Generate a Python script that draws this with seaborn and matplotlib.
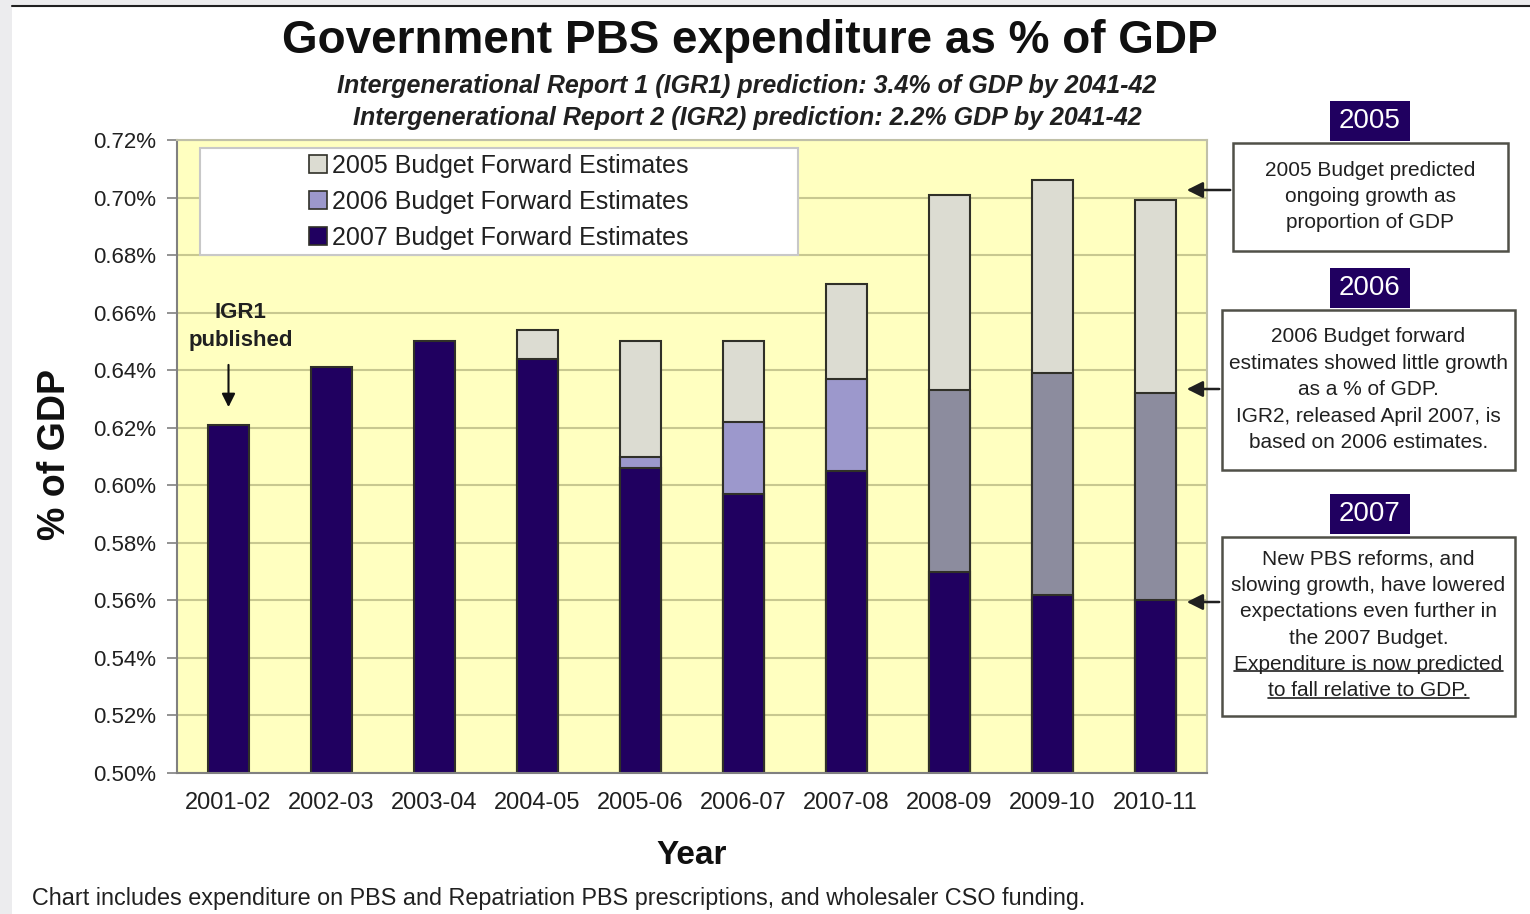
import matplotlib.pyplot as plt
import matplotlib.patches as mpatches
import matplotlib.ticker as mticker
from matplotlib.lines import Line2D
import numpy as np
import pandas as pd
import seaborn as sns

# data (% of GDP)
years = ['2001-02', '2002-03', '2003-04', '2004-05', '2005-06',
         '2006-07', '2007-08', '2008-09', '2009-10', '2010-11']
budget_2005 = [np.nan, np.nan, np.nan, 0.654, 0.650, 0.650, 0.670, 0.701, 0.706, 0.699]
budget_2006 = [np.nan, np.nan, np.nan, np.nan, 0.610, 0.622, 0.637, 0.633, 0.639, 0.632]
budget_2007 = [0.621, 0.641, 0.650, 0.644, 0.606, 0.597, 0.605, 0.570, 0.562, 0.560]
series_labels = ['2005 Budget Forward Estimates', '2006 Budget Forward Estimates',
                 '2007 Budget Forward Estimates']

title = 'Government PBS expenditure as % of GDP'
subtitle_1 = 'Intergenerational Report 1 (IGR1) prediction: 3.4% of GDP by 2041-42'
subtitle_2 = 'Intergenerational Report 2 (IGR2) prediction: 2.2% GDP by 2041-42'
footnote = 'Chart includes expenditure on PBS and Repatriation PBS prescriptions, and wholesaler CSO funding.'

box_years = ['2005', '2006', '2007']
box1_lines = ['2005 Budget predicted', 'ongoing growth as', 'proportion of GDP']
box2_lines = ['2006 Budget forward', 'estimates showed little growth', 'as a % of GDP.',
              'IGR2, released April 2007, is', 'based on 2006 estimates.']
box3_lines = ['New PBS reforms, and', 'slowing growth, have lowered',
              'expectations even further in', 'the 2007 Budget.',
              'Expenditure is now predicted', 'to fall relative to GDP.']

c2005 = '#dcdcd2'
c2006 = '#9c98cc'
c2006_late = '#8c8c9e'
c2007 = '#200060'
edge = '#303028'

W, H = 1530, 914


def fx(x):
    return x / W


def fy(y):
    return 1 - y / H


sns.set_theme(style='white')
plt.rcParams['font.family'] = ['Liberation Sans', 'DejaVu Sans']

fig = plt.figure(figsize=(15.3, 9.14), dpi=100)
fig.patch.set_facecolor('white')

# frame bits of the screenshot
fig.add_artist(mpatches.Rectangle((0, 0), fx(12), 1, transform=fig.transFigure,
                                  color='#ececee', lw=0))
fig.add_artist(mpatches.Rectangle((0, fy(5)), 1, 5 / H, transform=fig.transFigure,
                                  color='#ececee', lw=0))
fig.add_artist(Line2D([fx(12), 1], [fy(6), fy(6)], transform=fig.transFigure,
                      color='#202020', lw=1.5))

ax = fig.add_axes([fx(177), fy(773), fx(1030), 633 / H])
ax.set_facecolor('#ffffc0')

df5 = pd.DataFrame({'year': years, 'value': budget_2005}).dropna()
df6 = pd.DataFrame({'year': years, 'value': budget_2006}).dropna()
df7 = pd.DataFrame({'year': years, 'value': budget_2007}).dropna()

pal6 = {y: (c2006 if i < 7 else c2006_late) for i, y in enumerate(years)}

sns.barplot(data=df5, x='year', y='value', order=years, color=c2005, width=0.4,
            saturation=1, edgecolor=edge, linewidth=1.5, errorbar=None, ax=ax)
sns.barplot(data=df6, x='year', y='value', order=years, hue='year', palette=pal6,
            hue_order=years, legend=False, width=0.4, saturation=1,
            edgecolor=edge, linewidth=1.5, errorbar=None, ax=ax)
sns.barplot(data=df7, x='year', y='value', order=years, color=c2007, width=0.4,
            saturation=1, edgecolor=edge, linewidth=1.5, errorbar=None, ax=ax)

ax.set_ylim(0.50, 0.72)
ax.set_xlim(-0.5, 9.5)
ax.set_yticks(np.arange(0.50, 0.7201, 0.02))
ax.yaxis.set_major_formatter(mticker.FuncFormatter(lambda v, p: f'{v:.2f}%'))
ax.yaxis.grid(True, color='#c8c890', lw=1.5)
ax.set_axisbelow(True)
ax.set_xlabel('')
ax.set_ylabel('')

ax.set_xticks(np.arange(-0.5, 10, 1), minor=True)
ax.tick_params(axis='x', which='major', length=0, labelsize=17, pad=14, labelcolor='#202020')
ax.tick_params(axis='x', which='minor', length=8, width=1.2, color='#808080', direction='out')
ax.tick_params(axis='y', length=7, width=1.2, color='#808080', direction='out',
               labelsize=16, pad=8, labelcolor='#202020', left=True)
for s in ['left', 'bottom']:
    ax.spines[s].set_color('#808080')
    ax.spines[s].set_linewidth(1.5)
for s in ['top', 'right']:
    ax.spines[s].set_color('#c0c0a8')
    ax.spines[s].set_linewidth(1.5)

# legend box
ax.add_patch(mpatches.Rectangle((0.022, 0.818), 0.581, 0.169, transform=ax.transAxes,
                                facecolor='white', edgecolor='#c8c8c8', lw=1.5, zorder=4))
handles = [mpatches.Patch(facecolor=c, edgecolor=edge, lw=1.2)
           for c in [c2005, c2006, c2007]]
leg = ax.legend(handles, series_labels, loc='center', bbox_to_anchor=(0.3125, 0.9025),
                frameon=False, fontsize=18, handlelength=0.7, handleheight=0.7,
                handletextpad=0.2, labelspacing=0.48, borderaxespad=0)
leg.set_zorder(5)
for t in leg.get_texts():
    t.set_color('#202020')

# IGR1 note
ax.text(0.12, 0.6552, 'IGR1\npublished', ha='center', va='center', fontsize=16,
        fontweight='bold', color='#202020', linespacing=1.4, zorder=6)
ax.annotate('', xy=(0, 0.6262), xytext=(0, 0.6428),
            arrowprops=dict(arrowstyle='-|>', color='#101010', lw=1.5, mutation_scale=20))

# titles and axis labels
fig.text(fx(750), fy(41), title, ha='center', va='center', fontsize=33,
         fontweight='bold', color='#101010')
fig.text(fx(747), fy(86), subtitle_1, ha='center', va='center', fontsize=18,
         fontweight='bold', style='italic', color='#202020')
fig.text(fx(747), fy(118), subtitle_2, ha='center', va='center', fontsize=18,
         fontweight='bold', style='italic', color='#202020')
fig.text(fx(55), fy(455), '% of GDP', ha='center', va='center', rotation=90,
         fontsize=27, fontweight='bold', color='#101010')
fig.text(fx(692), fy(855), 'Year', ha='center', va='center', fontsize=24,
         fontweight='bold', color='#101010')
fig.text(fx(32), fy(898), footnote, ha='left', va='center', fontsize=16.8, color='#202020')

# right-hand explanation boxes
boxes = [
    dict(rect=(1233, 143, 1508, 251), head=121, first=170, lines=box1_lines, arrow=190, ul=[]),
    dict(rect=(1222, 310, 1515, 470), head=288, first=337, lines=box2_lines, arrow=389, ul=[]),
    dict(rect=(1222, 537, 1515, 716), head=514, first=559, lines=box3_lines, arrow=602, ul=[4, 5]),
]
ul_texts = []
for yr, b in zip(box_years, boxes):
    x0, y0, x1, y1 = b['rect']
    fig.add_artist(mpatches.Rectangle((fx(x0), fy(y1)), fx(x1 - x0), (y1 - y0) / H,
                                      transform=fig.transFigure, facecolor='white',
                                      edgecolor='#505048', lw=1.8))
    fig.add_artist(mpatches.Rectangle((fx(1330), fy(b['head'] + 20)), fx(80), 40 / H,
                                      transform=fig.transFigure, facecolor=c2007, lw=0))
    fig.text(fx(1370), fy(b['head']), yr, ha='center', va='center', fontsize=20,
             color='white')
    cx = (x0 + x1) / 2
    for i, line in enumerate(b['lines']):
        t = fig.text(fx(cx), fy(b['first'] + i * 26.4), line, ha='center', va='center',
                     fontsize=15, color='#202020')
        if i in b['ul']:
            ul_texts.append(t)
    fig.add_artist(mpatches.FancyArrowPatch((fx(x0), fy(b['arrow'])), (fx(1184), fy(b['arrow'])),
                                            transform=fig.transFigure, arrowstyle='-|>',
                                            mutation_scale=24, color='#202020', lw=1.8))

fig.canvas.draw()
inv = fig.transFigure.inverted()
for t in ul_texts:
    bb = t.get_window_extent()
    (a0, b0), (a1, _) = inv.transform([[bb.x0, bb.y0 + 3], [bb.x1, bb.y0 + 3]])
    fig.add_artist(Line2D([a0, a1], [b0, b0], transform=fig.transFigure,
                          color='#202020', lw=1.2))

fig.savefig('out.png', dpi=100)
